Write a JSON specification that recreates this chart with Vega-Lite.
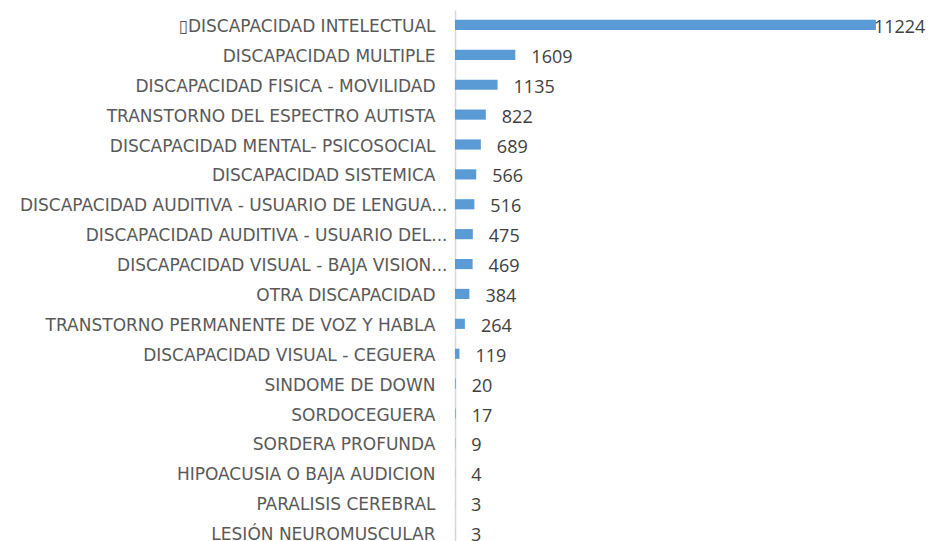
{
  "$schema": "https://vega.github.io/schema/vega-lite/v6.json",
  "width": 450,
  "height": 538,
  "autosize": {"type": "none"},
  "padding": {"left": 455, "top": 10, "right": 24, "bottom": 0},
  "background": "white",
  "config": {"view": {"stroke": null}, "font": "Open Sans"},
  "data": {"values": [
    {"cat": "\u25afDISCAPACIDAD INTELECTUAL", "value": 11224},
    {"cat": "DISCAPACIDAD MULTIPLE", "value": 1609},
    {"cat": "DISCAPACIDAD FISICA - MOVILIDAD", "value": 1135},
    {"cat": "TRANSTORNO DEL ESPECTRO AUTISTA", "value": 822},
    {"cat": "DISCAPACIDAD MENTAL- PSICOSOCIAL", "value": 689},
    {"cat": "DISCAPACIDAD SISTEMICA", "value": 566},
    {"cat": "DISCAPACIDAD AUDITIVA - USUARIO DE LENGUA...", "value": 516},
    {"cat": "DISCAPACIDAD AUDITIVA - USUARIO DEL...", "value": 475},
    {"cat": "DISCAPACIDAD VISUAL - BAJA VISION...", "value": 469},
    {"cat": "OTRA DISCAPACIDAD", "value": 384},
    {"cat": "TRANSTORNO PERMANENTE DE VOZ Y HABLA", "value": 264},
    {"cat": "DISCAPACIDAD VISUAL - CEGUERA", "value": 119},
    {"cat": "SINDOME DE DOWN", "value": 20},
    {"cat": "SORDOCEGUERA", "value": 17},
    {"cat": "SORDERA PROFUNDA", "value": 9},
    {"cat": "HIPOACUSIA O BAJA AUDICION", "value": 4},
    {"cat": "PARALISIS CEREBRAL", "value": 3},
    {"cat": "LESIÓN NEUROMUSCULAR", "value": 3}
  ]},
  "encoding": {
    "y": {"field": "cat", "type": "nominal", "sort": null,
      "scale": {"paddingInner": 0.66, "paddingOuter": 0.33},
      "axis": {"title": null, "ticks": false, "domainColor": "#d9d9d9", "domainWidth": 1.5,
        "labelFontSize": 17, "labelColor": "#595959", "labelLimit": 470, "labelFont": "DejaVu Sans",
        "labelOffset": 2,
        "labelPadding": {"expr": "indexof(datum.value, '...') >= 0 ? 8 : 20"}}},
    "x": {"field": "value", "type": "quantitative", "scale": {"domain": [0, 12000], "nice": false},
      "axis": null}
  },
  "layer": [
    {"mark": {"type": "bar", "color": "#5b9bd5"}},
    {"transform": [{"filter": "datum.value < 10000"}],
     "mark": {"type": "text", "align": "left", "dx": 16, "fontSize": 18, "color": "#404040", "baseline": "middle", "dy": 3},
     "encoding": {"text": {"field": "value", "type": "quantitative", "format": "d"}}},
    {"transform": [{"filter": "datum.value >= 10000"}],
     "mark": {"type": "text", "align": "left", "dx": -2, "fontSize": 18, "color": "#404040", "baseline": "middle", "dy": 3},
     "encoding": {"text": {"field": "value", "type": "quantitative", "format": "d"}}}
  ]
}
